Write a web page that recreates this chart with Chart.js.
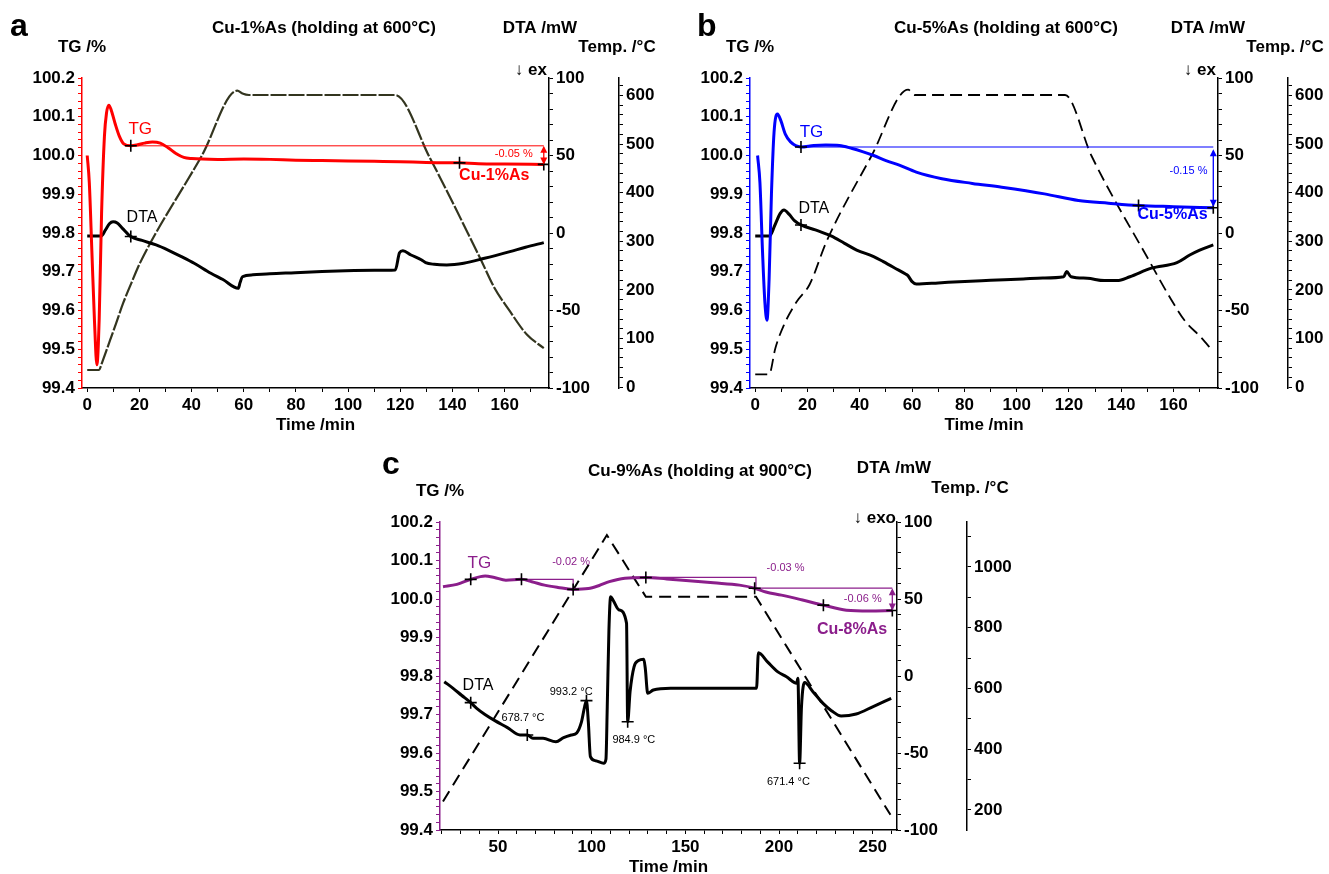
<!DOCTYPE html>
<html>
<head>
<meta charset="utf-8">
<script src="https://cdn.jsdelivr.net/npm/chart.js@4.4.1/dist/chart.umd.min.js"></script>
<style>
  html, body { margin: 0; padding: 0; background: #fff; overflow: hidden; }
  body { width: 1329px; height: 874px; position: relative; }
  canvas { position: absolute; }
</style>
</head>
<body>
<canvas id="chartA" width="660" height="438" style="left:0px;top:0px"></canvas>
<canvas id="chartB" width="661" height="438" style="left:668px;top:0px"></canvas>
<canvas id="chartC" width="660" height="440" style="left:360px;top:440px"></canvas>
<script>
// ---- panel a: Cu-1%As, [time min, value] ----
const tgA = [[0,100.0],[0.8,99.93],[1.8,99.75],[2.8,99.57],[3.7,99.46],[4.6,99.58],[5.5,99.85],[6.6,100.05],[7.4,100.11],[8.3,100.13],[9.3,100.115],[10.8,100.08],[12.3,100.05],[14,100.03],[16.7,100.025],[19,100.027],[22,100.032],[25,100.035],[28,100.032],[31,100.02],[34,100.005],[37,99.995],[40,99.992],[50,99.99],[60,99.991],[70,99.99],[80,99.988],[90,99.987],[100,99.986],[110,99.985],[120,99.984],[130,99.982],[142.7,99.981],[150,99.979],[160,99.978],[175,99.977]];
const dtaA = [[0,-2],[5.4,-1.9],[7,2],[8.5,6],[9.9,7.3],[11.5,6.5],[13.5,3],[16.7,-2.3],[21,-4.8],[26.4,-7.7],[31,-11],[36.1,-15.2],[41,-19.5],[47.4,-26],[52,-30],[57.9,-35.7],[58.6,-32],[59.5,-28.2],[63.5,-27],[70,-26.3],[79.7,-25.6],[90,-24.8],[99,-24.3],[110,-24],[118.1,-23.8],[119.7,-12.7],[121,-11.5],[124.1,-14.2],[128.2,-17.4],[129.7,-19.1],[133,-20.2],[137.8,-20.6],[144.3,-19.5],[152.3,-16.3],[162,-12],[168,-9.2],[175,-6.2]];
const tempA = [[0,35],[4.4,35],[6,55],[8.8,97],[11,130],[13.8,173],[17,215],[20.3,256],[44,477],[57.5,610],[59.5,604],[62,601],[118,601],[131.3,472],[150.8,263],[156,205],[162,156],[168.5,108],[175,80]];
const refA = [[16.7,100.025],[175,100.025]];
const tgMarksA = [[16.7,100.025],[142.7,99.981],[175,99.977]];
const dtaMarksA = [[16.7,-2.3]];

// ---- panel b: Cu-5%As ----
const tgB = [[0.9,100.0],[1.8,99.93],[2.8,99.75],[3.7,99.62],[4.5,99.575],[5.3,99.68],[6.2,99.9],[7.2,100.06],[8.5,100.107],[9.8,100.09],[11.5,100.055],[13.5,100.035],[17.5,100.022],[22.4,100.026],[27,100.027],[32.2,100.026],[37.1,100.018],[41,100.01],[45.3,100.0],[50,99.987],[55.1,99.975],[61.6,99.957],[71.4,99.94],[83,99.928],[94.3,99.918],[110.6,99.901],[123.6,99.884],[135.1,99.877],[146.6,99.871],[160,99.868],[175.2,99.865]];
const dtaB = [[0,-1.9],[5.5,-1.9],[7.5,5],[9.5,12.5],[11,14.9],[13,12],[15,8],[17.5,5.2],[23,2],[29,-1.9],[34,-6.5],[38.8,-11],[45.3,-15.2],[49,-18.5],[53.5,-22.7],[57.5,-26.5],[58.4,-27.5],[60,-31.4],[61.6,-32.9],[70,-32.2],[78,-31.4],[90,-30.5],[102.5,-29.6],[110,-29],[118,-28.2],[119.1,-24.9],[120.8,-28.2],[127,-29.2],[133.5,-30.7],[138.4,-30.7],[143.3,-28.2],[151.5,-22.7],[161.3,-19.1],[166.2,-14.2],[170,-11],[175.2,-7.7]];
const tempB = [[0,26],[5.3,26],[7.7,80],[11,128],[15.9,176],[20.8,211],[27.3,300],[44.5,476],[58.5,612],[61,601],[118.5,601],[128.6,476],[151.5,252],[158,190],[164.5,135],[170,105],[175.2,73]];
const refB = [[17.5,100.022],[175.2,100.022]];
const tgMarksB = [[17.5,100.022],[146.6,99.871],[175.2,99.865]];
const dtaMarksB = [[17.5,5.2]];

// ---- panel c: Cu-9%As ----
const tgC = [[20.6,100.032],[28,100.038],[35.4,100.051],[43.1,100.06],[48,100.056],[54.2,100.049],[62.5,100.051],[68,100.045],[74.8,100.036],[82,100.03],[90.1,100.025],[98.2,100.027],[104,100.035],[109.4,100.045],[117.7,100.054],[128.9,100.056],[140,100.052],[150.3,100.048],[165,100.042],[178.9,100.036],[187,100.028],[193,100.018],[201.3,100.01],[212,99.998],[223.7,99.984],[236,99.971],[248.3,99.969],[260.5,99.97]];
const dtaC = [[21.3,-3.7],[26,-8],[30.5,-12.5],[35.4,-17.3],[38.6,-21],[43,-25],[48.3,-29],[55,-33.5],[61.7,-38.3],[65.6,-38.3],[68.6,-40.5],[74,-40.5],[80.9,-42.7],[85,-40],[89.1,-38.3],[92,-37],[94.5,-30],[96.2,-20],[97.2,-16],[98.2,-30],[99.3,-52.4],[102,-55],[106.4,-56.7],[107.6,-54],[108.3,-20],[109.2,30],[110.1,51.5],[111.5,49],[114.6,42.9],[118.6,34.2],[119.2,-29.7],[120.5,-10],[122.6,6],[125,10],[127.8,10.8],[128.6,5],[129.9,-11.2],[132.9,-9.1],[142.1,-8],[165,-8],[188,-8],[189,15.1],[194,9],[199.2,2.8],[204,-0.5],[209.4,-4.7],[210.1,-1.5],[211,-56.7],[212,-20],[213.7,-4.3],[218,-10],[223.5,-17.8],[228,-22.5],[233.2,-26],[241.2,-24.7],[250,-20],[259.9,-14.5]];
const tempC = [[20.6,228],[108.1,1105],[128.9,902],[187.7,902],[259.5,184]];
const refC1 = [[62.5,100.051],[90.1,100.051],[90.1,100.025]];
const refC2 = [[128.9,100.056],[187.7,100.056],[187.7,100.028]];
const refC3 = [[187,100.028],[260.5,100.028]];
const tgMarksC = [[35.4,100.051],[62.5,100.051],[90.1,100.025],[128.9,100.056],[187,100.028],[223.7,99.984],[260.5,99.97]];
const dtaMarksC = [[35.4,-17.3],[65.6,-38.3],[97.2,-16],[119.2,-29.7],[211,-56.7]];

// ---- tick labels ----
const tgLabels = [99.4, 99.5, 99.6, 99.7, 99.8, 99.9, 100.0, 100.1, 100.2];
const dtaLabels = [-100, -50, 0, 50, 100];
const tempLabels600 = [0, 100, 200, 300, 400, 500, 600];
const tempLabels900 = [200, 400, 600, 800, 1000];
const timeLabels600 = [0, 20, 40, 60, 80, 100, 120, 140, 160];
const timeLabels900 = [50, 100, 150, 200, 250];

const FONT = "'Liberation Sans', Arial, sans-serif";
Chart.defaults.font.family = FONT;

function range(a, b, step) {
  const out = [];
  for (let v = a; v <= b + 1e-9; v += step) out.push(+v.toFixed(4));
  return out;
}

function pts(arr) { return arr.map(p => ({ x: p[0], y: p[1] })); }

function curve(data, axis, color, width, extra) {
  return Object.assign({
    data: pts(data), yAxisID: axis, borderColor: color, borderWidth: width,
    pointRadius: 0, fill: false, cubicInterpolationMode: 'monotone'
  }, extra || {});
}

function marks(data, axis) {
  return {
    data: pts(data), yAxisID: axis, showLine: false, pointStyle: 'cross',
    pointRadius: 6, pointBorderWidth: 1.6, pointBorderColor: '#000', borderColor: '#000'
  };
}

function scale(o) {
  return {
    type: 'linear', position: o.pos, min: o.min, max: o.max, weight: o.weight || 0,
    afterBuildTicks: s => { s.ticks = o.ticks.map(v => ({ value: v })); },
    afterFit: s => { if (o.pos === 'bottom') s.height = o.size; else s.width = o.size; },
    ticks: {
      autoSkip: false, maxRotation: 0, minRotation: 0, color: '#000', padding: 3,
      font: { family: FONT, size: 17, weight: 'bold' },
      callback: v => o.major.some(m => Math.abs(m - v) < 1e-6) ? o.fmt(v) : ''
    },
    grid: { drawOnChartArea: false, drawTicks: true, tickLength: 4, tickColor: o.color, tickWidth: 1 },
    border: { display: true, color: o.color, width: 1.5 },
    title: o.title
      ? { display: true, text: o.title, color: '#000', font: { family: FONT, size: 17, weight: 'bold' }, padding: { top: 0, bottom: 2 } }
      : { display: false }
  };
}

// draws texts, arrows and headers
const extras = {
  id: 'extras',
  afterDatasetsDraw(chart, args, opts) {
    const ctx = chart.ctx;
    const sx = chart.scales.x;
    (opts.arrows || []).forEach(a => {
      const ys = chart.scales.tg;
      const x = sx.getPixelForValue(a.x);
      const y1 = ys.getPixelForValue(a.y1);
      const y2 = ys.getPixelForValue(a.y2);
      ctx.save();
      ctx.strokeStyle = a.color; ctx.fillStyle = a.color; ctx.lineWidth = 1.3;
      ctx.beginPath(); ctx.moveTo(x, y1 + 2); ctx.lineTo(x, y2 - 2); ctx.stroke();
      ctx.beginPath(); ctx.moveTo(x, y1); ctx.lineTo(x - 3.5, y1 + 7); ctx.lineTo(x + 3.5, y1 + 7); ctx.closePath(); ctx.fill();
      ctx.beginPath(); ctx.moveTo(x, y2); ctx.lineTo(x - 3.5, y2 - 7); ctx.lineTo(x + 3.5, y2 - 7); ctx.closePath(); ctx.fill();
      ctx.restore();
    });
    (opts.labels || []).forEach(l => {
      const ys = chart.scales[l.axis];
      ctx.save();
      ctx.font = l.font + ' ' + FONT;
      ctx.fillStyle = l.color;
      ctx.textAlign = 'center';
      ctx.textBaseline = 'middle';
      ctx.fillText(l.text, sx.getPixelForValue(l.x), ys.getPixelForValue(l.y));
      ctx.restore();
    });
  },
  afterDraw(chart, args, opts) {
    const ctx = chart.ctx;
    (opts.headers || []).forEach(h => {
      ctx.save();
      ctx.font = h.font + ' ' + FONT;
      ctx.fillStyle = '#000';
      ctx.textAlign = h.align || 'center';
      ctx.textBaseline = 'alphabetic';
      ctx.fillText(h.text, h.x, h.y);
      ctx.restore();
    });
  }
};

function makePanel(id, p) {
  return new Chart(document.getElementById(id), {
    type: 'line',
    data: { datasets: p.datasets },
    options: {
      responsive: false, animation: false, devicePixelRatio: 1,
      layout: { padding: { top: p.top, left: 0, right: 0, bottom: 0 } },
      plugins: {
        legend: { display: false }, tooltip: { enabled: false },
        extras: { labels: p.labels, arrows: p.arrows, headers: p.headers }
      },
      scales: {
        x: scale({ pos: 'bottom', min: p.xMin, max: p.xMax, ticks: p.xTicks, major: p.xMajor, fmt: v => String(v), color: '#000', size: 50, title: 'Time /min' }),
        tg: scale({ pos: 'left', min: 99.4, max: 100.2, ticks: range(99.4, 100.2, 0.02), major: tgLabels, fmt: v => v.toFixed(1), color: p.color, size: p.tgWidth }),
        dta: scale({ pos: 'right', min: -100, max: 100, weight: 0, ticks: range(-100, 100, 10), major: dtaLabels, fmt: v => String(v), color: '#000', size: 70 }),
        temp: scale({ pos: 'right', min: p.tMin, max: p.tMax, weight: 1, ticks: p.tTicks, major: p.tMajor, fmt: v => String(v), color: '#000', size: p.tWidth })
      }
    },
    plugins: [extras]
  });
}

const RED = '#ff0000', BLUE = '#0000ff', PURPLE = '#8b1e8b';

makePanel('chartA', {
  color: RED, top: 78, tgWidth: 82, tWidth: 41,
  xMin: -2, xMax: 177, xTicks: range(0, 170, 10), xMajor: timeLabels600,
  tMin: -2, tMax: 636, tTicks: range(0, 620, 20), tMajor: tempLabels600,
  datasets: [
    marks(tgMarksA, 'tg'),
    marks(dtaMarksA, 'dta'),
    curve(tgA, 'tg', RED, 3),
    curve(dtaA, 'dta', '#000', 3),
    curve(refA, 'tg', RED, 1, { cubicInterpolationMode: 'default', tension: 0 }),
    curve(tempA, 'temp', '#33351f', 2.2, { borderDash: [16, 2] })
  ],
  arrows: [{ x: 175, y1: 100.025, y2: 99.977, color: RED }],
  labels: [
    { text: 'TG', x: 20.3, y: 100.068, axis: 'tg', color: RED, font: '17px' },
    { text: 'DTA', x: 21, y: 9.7, axis: 'dta', color: '#000', font: '16px' },
    { text: '-0.05 %', x: 163.5, y: 100.004, axis: 'tg', color: RED, font: '11px' },
    { text: 'Cu-1%As', x: 156, y: 99.948, axis: 'tg', color: RED, font: 'bold 16px' }
  ],
  headers: [
    { text: 'a', x: 10, y: 36, font: 'bold 32px', align: 'left' },
    { text: 'Cu-1%As (holding at 600°C)', x: 324, y: 33, font: 'bold 17px' },
    { text: 'TG /%', x: 82, y: 52, font: 'bold 17px' },
    { text: 'DTA /mW', x: 540, y: 33, font: 'bold 17px' },
    { text: 'Temp. /°C', x: 617, y: 52, font: 'bold 17px' },
    { text: '↓ ex', x: 547, y: 75, font: 'bold 17px', align: 'right' }
  ]
});

makePanel('chartB', {
  color: BLUE, top: 78, tgWidth: 82, tWidth: 41,
  xMin: -2, xMax: 177, xTicks: range(0, 170, 10), xMajor: timeLabels600,
  tMin: -2, tMax: 636, tTicks: range(0, 620, 20), tMajor: tempLabels600,
  datasets: [
    marks(tgMarksB, 'tg'),
    marks(dtaMarksB, 'dta'),
    curve(tgB, 'tg', BLUE, 3),
    curve(dtaB, 'dta', '#000', 3),
    curve(refB, 'tg', BLUE, 1.2, { cubicInterpolationMode: 'default', tension: 0 }),
    curve(tempB, 'temp', '#000', 1.8, { borderDash: [12, 6] })
  ],
  arrows: [{ x: 175.2, y1: 100.016, y2: 99.868, color: BLUE }],
  labels: [
    { text: 'TG', x: 21.5, y: 100.06, axis: 'tg', color: BLUE, font: '17px' },
    { text: 'DTA', x: 22.4, y: 16, axis: 'dta', color: '#000', font: '16px' },
    { text: '-0.15 %', x: 165.7, y: 99.96, axis: 'tg', color: BLUE, font: '11px' },
    { text: 'Cu-5%As', x: 159.6, y: 99.848, axis: 'tg', color: BLUE, font: 'bold 16px' }
  ],
  headers: [
    { text: 'b', x: 29, y: 36, font: 'bold 32px', align: 'left' },
    { text: 'Cu-5%As (holding at 600°C)', x: 338, y: 33, font: 'bold 17px' },
    { text: 'TG /%', x: 82, y: 52, font: 'bold 17px' },
    { text: 'DTA /mW', x: 540, y: 33, font: 'bold 17px' },
    { text: 'Temp. /°C', x: 617, y: 52, font: 'bold 17px' },
    { text: '↓ ex', x: 548, y: 75, font: 'bold 17px', align: 'right' }
  ]
});

makePanel('chartC', {
  color: PURPLE, top: 82, tgWidth: 80, tWidth: 53,
  xMin: 19, xMax: 263, xTicks: range(20, 260, 10), xMajor: timeLabels900,
  tMin: 134, tMax: 1148, tTicks: range(200, 1100, 100), tMajor: tempLabels900,
  datasets: [
    marks(tgMarksC, 'tg'),
    marks(dtaMarksC, 'dta'),
    curve(tgC, 'tg', PURPLE, 3),
    curve(dtaC, 'dta', '#000', 3),
    curve(refC1, 'tg', PURPLE, 1.2, { cubicInterpolationMode: 'default', tension: 0 }),
    curve(refC2, 'tg', PURPLE, 1.2, { cubicInterpolationMode: 'default', tension: 0 }),
    curve(refC3, 'tg', PURPLE, 1.2, { cubicInterpolationMode: 'default', tension: 0 }),
    curve(tempC, 'temp', '#000', 2, { borderDash: [12, 7], cubicInterpolationMode: 'default', tension: 0 })
  ],
  arrows: [{ x: 260.5, y1: 100.028, y2: 99.97, color: PURPLE }],
  labels: [
    { text: 'TG', x: 40, y: 100.093, axis: 'tg', color: PURPLE, font: '17px' },
    { text: 'DTA', x: 39.3, y: -6.5, axis: 'dta', color: '#000', font: '16px' },
    { text: '-0.02 %', x: 89, y: 100.097, axis: 'tg', color: PURPLE, font: '11px' },
    { text: '-0.03 %', x: 203.5, y: 100.08, axis: 'tg', color: PURPLE, font: '11px' },
    { text: '-0.06 %', x: 244.7, y: 100.0, axis: 'tg', color: PURPLE, font: '11px' },
    { text: 'Cu-8%As', x: 239, y: 99.92, axis: 'tg', color: PURPLE, font: 'bold 16px' },
    { text: '993.2 °C', x: 89, y: -10.2, axis: 'dta', color: '#000', font: '11px' },
    { text: '678.7 °C', x: 63.3, y: -27, axis: 'dta', color: '#000', font: '11px' },
    { text: '984.9 °C', x: 122.5, y: -41.6, axis: 'dta', color: '#000', font: '11px' },
    { text: '671.4 °C', x: 205, y: -68.6, axis: 'dta', color: '#000', font: '11px' }
  ],
  headers: [
    { text: 'c', x: 22, y: 34, font: 'bold 32px', align: 'left' },
    { text: 'Cu-9%As (holding at 900°C)', x: 340, y: 36, font: 'bold 17px' },
    { text: 'TG /%', x: 80, y: 56, font: 'bold 17px' },
    { text: 'DTA /mW', x: 534, y: 33, font: 'bold 17px' },
    { text: 'Temp. /°C', x: 610, y: 53, font: 'bold 17px' },
    { text: '↓ exo', x: 536, y: 83, font: 'bold 17px', align: 'right' }
  ]
});
</script>
</body>
</html>
